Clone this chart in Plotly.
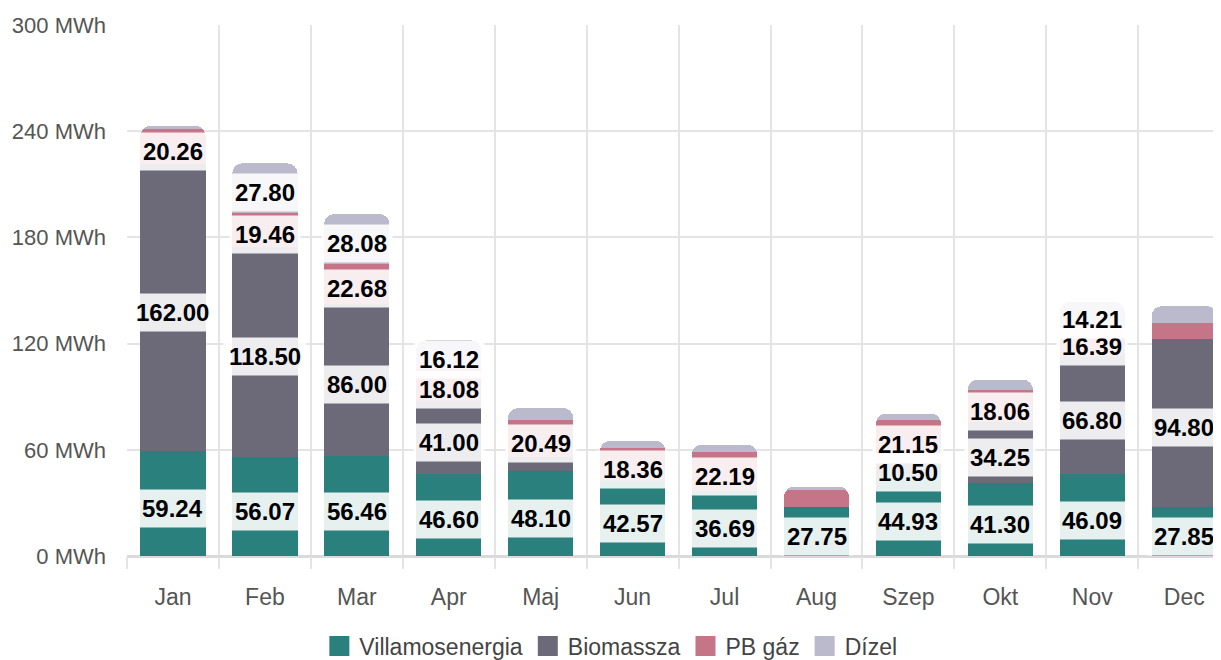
import plotly.graph_objects as go

months = ["Jan", "Feb", "Mar", "Apr", "Maj", "Jun", "Jul", "Aug", "Szep", "Okt", "Nov", "Dec"]
villamosenergia = [59.24, 56.07, 56.46, 46.60, 48.10, 42.57, 36.69, 27.75, 44.93, 41.30, 46.09, 27.85]
biomassza = [162.00, 118.50, 86.00, 41.00, 8.0, 0.0, 0.0, 0.0, 10.50, 34.25, 66.80, 94.80]
pb_gaz = [20.26, 19.46, 22.68, 18.08, 20.49, 18.36, 22.19, 9.4, 21.15, 18.06, 16.39, 9.1]
dizel = [1.5, 27.80, 28.08, 16.12, 7.0, 4.0, 4.0, 2.0, 3.7, 6.0, 14.21, 9.4]
y_ticks = [0, 60, 120, 180, 240, 300]

series = [
    ("Villamosenergia", villamosenergia, "#2A807C"),
    ("Biomassza", biomassza, "#6C6A78"),
    ("PB gáz", pb_gaz, "#C67487"),
    ("Dízel", dizel, "#BBBACC"),
]

FONT = "Liberation Sans, Arial, sans-serif"

fig = go.Figure()
for name, vals, col in series:
    fig.add_trace(go.Bar(
        x=months, y=vals, name=name, showlegend=False,
        marker=dict(color=col, line=dict(width=0)),
        hoverinfo="skip",
    ))

# legend entries with larger square swatches
for name, vals, col in series:
    fig.add_trace(go.Scatter(
        x=[None], y=[None], name=name, mode="markers",
        marker=dict(symbol="square", size=16, color=col, line=dict(color=col, width=4)),
        showlegend=True, hoverinfo="skip",
    ))

# value labels with semi-transparent white boxes
base = [0.0] * len(months)
for name, vals, col in series:
    for i, v in enumerate(vals):
        if v >= 10:
            fig.add_annotation(
                x=months[i], y=base[i] + v / 2, text=f"<b>{v:.2f}</b>",
                showarrow=False, yshift=-5,
                font=dict(family=FONT, size=24, color="#000000"),
                bgcolor="rgba(255,255,255,0.88)", borderpad=5,
            )
        base[i] += v

fig.update_layout(
    width=1213, height=652,
    margin=dict(l=119, r=0, t=17, b=104),
    barmode="stack", bargap=0.29, barcornerradius=10,
    plot_bgcolor="white", paper_bgcolor="white",
    font=dict(family=FONT, size=22, color="#555555"),
    showlegend=True,
    legend=dict(
        orientation="h", xref="container", yref="container",
        x=0.497, xanchor="center", y=0.0215, yanchor="middle",
        font=dict(family=FONT, size=23, color="#444444"),
        itemwidth=30, traceorder="normal",
    ),
    xaxis=dict(
        type="category", range=[-0.5, 11.4],
        tickson="boundaries", showgrid=True, gridcolor="#E4E4E4", gridwidth=2,
        ticks="outside", ticklen=12, tickcolor="#E4E4E4", tickwidth=2,
        ticklabelstandoff=25,
        tickfont=dict(family=FONT, size=23, color="#555555"),
        showline=False, zeroline=False,
    ),
    yaxis=dict(
        range=[0, 300], tickvals=y_ticks, ticktext=[f"{t} MWh" for t in y_ticks],
        showgrid=True, gridcolor="#E4E4E4", gridwidth=2,
        zeroline=True, zerolinecolor="#DADADA", zerolinewidth=3,
        ticks="", ticklabelstandoff=20,
        tickfont=dict(family=FONT, size=22, color="#555555"),
    ),
)

fig.write_html("out.html")
